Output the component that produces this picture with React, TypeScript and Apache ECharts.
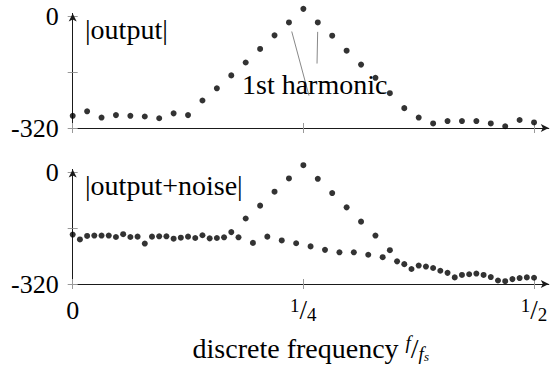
import React, { useEffect, useRef } from "react";
import * as echarts from "echarts";

// |output| sampled at f = k/64, k = 0..32
const topValues = [
  -285, -272, -290, -283, -285, -287, -292, -278, -283, -241, -206, -169, -132, -93, -54, -17,
  22, -17, -55, -98, -138, -176, -220, -263, -290, -307, -300, -300, -300, -307, -315, -297, -304,
];
// |output+noise| sampled at f = k/128, k = 0..64
const bottomValues = [
  -178, -192, -182, -181, -181, -181, -185, -177, -185, -184, -204, -184, -183, -183, -190, -187,
  -184, -188, -180, -189, -188, -186, -171, -186, -132, -202, -95, -184, -55, -195, -17, -203,
  21, -212, -18, -222, -59, -229, -100, -229, -141, -236, -181, -243, -223, -255, -263, -277,
  -267, -270, -274, -282, -288, -301, -294, -292, -290, -294, -300, -310, -312, -306, -303, -301,
  -302,
];
const xTicks = [0, 0.25, 0.5];
const xTickLabels = ["{z|0}", "{n|1}{sl|/}{d|4}", "{n|1}{sl|/}{d|2}"];
const yTicks = [-320, -160, 0];
const yLabelValues = [-320, 0];
// annotation pins for "1st harmonic" (frequency, level)
const pin1 = [[0.2374, -43], [0.2561, -227]];
const pin2 = [[0.2655, -44], [0.2648, -135]];

const FONT = "Liberation Serif, Tinos, Times New Roman, DejaVu Serif, serif";
const AXIS = "#1a1a1a";
const TICK = "#999";
const XMAX = 0.516;
const YMAX = 9;

export default function App() {
  const ref = useRef<HTMLDivElement>(null);
  useEffect(() => {
    if (!ref.current) return;
    const chart = echarts.init(ref.current, undefined, { renderer: "svg" });
    const grids = [
      { left: 72.7, top: 13.4, width: 476.1, height: 114.6 },
      { left: 72.7, top: 169.4, width: 476.1, height: 114.6 },
    ];
    const mkX = (gi: number, labels: boolean) => [
      {
        type: "value",
        gridIndex: gi,
        position: "bottom",
        min: 0,
        max: XMAX,
        splitLine: { show: false },
        axisLine: {
          show: true,
          onZero: false,
          lineStyle: { color: AXIS, width: 1 },
          symbol: ["none", "arrow"],
          symbolSize: [6, 8],
        },
        axisTick: { show: true, customValues: xTicks, length: 5, inside: false, lineStyle: { color: TICK } },
        axisLabel: labels
          ? {
              show: true,
              customValues: xTicks,
              margin: 12,
              color: "#000",
              fontFamily: FONT,
              fontSize: 26,
              formatter: (v: number) => xTickLabels[xTicks.indexOf(v)] ?? "",
              rich: {
                z: { fontFamily: FONT, fontSize: 26, lineHeight: 28, color: "#000" },
                n: { fontFamily: FONT, fontSize: 19, lineHeight: 19, verticalAlign: "top", color: "#000" },
                sl: { fontFamily: FONT, fontSize: 27, lineHeight: 28, color: "#000" },
                d: { fontFamily: FONT, fontSize: 19, lineHeight: 19, verticalAlign: "bottom", color: "#000" },
              },
            }
          : { show: false },
        ...(labels
          ? {
              name: "{t|discrete frequency }{a|f}{sl|/}{b|f}{c|s}",
              nameLocation: "middle",
              nameGap: 49,
              nameTextStyle: {
                fontFamily: FONT,
                rich: {
                  t: { fontFamily: FONT, fontSize: 28, lineHeight: 30, color: "#000" },
                  a: { fontFamily: FONT, fontSize: 19, fontStyle: "italic", lineHeight: 19, verticalAlign: "top", color: "#000" },
                  sl: { fontFamily: FONT, fontSize: 28, lineHeight: 30, color: "#000" },
                  b: { fontFamily: FONT, fontSize: 19, fontStyle: "italic", lineHeight: 19, verticalAlign: "bottom", color: "#000" },
                  c: { fontFamily: FONT, fontSize: 13, fontStyle: "italic", lineHeight: 12, verticalAlign: "bottom", color: "#000" },
                },
              },
            }
          : {}),
      },
      {
        type: "value",
        gridIndex: gi,
        position: "bottom",
        min: 0,
        max: XMAX,
        splitLine: { show: false },
        axisLine: { show: false, onZero: false },
        axisTick: { show: true, customValues: xTicks, length: 5, inside: true, lineStyle: { color: TICK } },
        axisLabel: { show: false },
      },
    ];
    const mkY = (gi: number) => [
      {
        type: "value",
        gridIndex: gi,
        position: "left",
        min: -320,
        max: YMAX,
        splitLine: { show: false },
        axisLine: {
          show: true,
          onZero: false,
          lineStyle: { color: AXIS, width: 1 },
          symbol: ["none", "arrow"],
          symbolSize: [6, 8],
        },
        axisTick: { show: true, customValues: yTicks, length: 5, inside: false, lineStyle: { color: TICK } },
        axisLabel: {
          show: true,
          customValues: yLabelValues,
          margin: 14,
          color: "#000",
          fontFamily: FONT,
          fontSize: 26,
          formatter: (v: number) => String(v),
        },
      },
      {
        type: "value",
        gridIndex: gi,
        position: "left",
        min: -320,
        max: YMAX,
        splitLine: { show: false },
        axisLine: { show: false, onZero: false },
        axisTick: { show: true, customValues: yTicks, length: 5, inside: true, lineStyle: { color: TICK } },
        axisLabel: { show: false },
      },
    ];
    const option = {
      animation: false,
      textStyle: { fontFamily: FONT },
      grid: grids,
      xAxis: [...mkX(0, false), ...mkX(1, true)],
      yAxis: [...mkY(0), ...mkY(1)],
      series: [
        {
          type: "scatter",
          xAxisIndex: 0,
          yAxisIndex: 0,
          clip: false,
          symbolSize: 6,
          itemStyle: { color: "#000" },
          data: topValues.map((v, k) => [k / 64, v]),
          markLine: {
            silent: true,
            symbol: "none",
            label: { show: false },
            lineStyle: { color: "#888", width: 1, type: "solid" },
            data: [
              [{ coord: pin1[0] }, { coord: pin1[1] }],
              [{ coord: pin2[0] }, { coord: pin2[1] }],
            ],
          },
          z: 3,
        },
        {
          type: "scatter",
          xAxisIndex: 2,
          yAxisIndex: 2,
          clip: false,
          symbolSize: 6,
          itemStyle: { color: "#000" },
          data: bottomValues.map((v, k) => [k / 128, v]),
        },
      ],
      graphic: [
        {
          type: "text",
          left: 85,
          top: 15,
          style: { text: "|output|", fontFamily: FONT, fontSize: 28, fill: "#000" },
        },
        {
          type: "text",
          left: 85,
          top: 171,
          style: { text: "|output+noise|", fontFamily: FONT, fontSize: 28, fill: "#000" },
        },
        {
          type: "text",
          left: 242,
          top: 70,
          z: 10,
          style: { text: "1st harmonic", fontFamily: FONT, fontSize: 28, fill: "#000" },
        },
      ],
    };
    chart.setOption(option as any);
    return () => chart.dispose();
  }, []);
  return (
    <div
      ref={ref}
      style={{ position: "fixed", left: 0, top: 0, width: 555, height: 365, background: "#fff" }}
    />
  );
}
